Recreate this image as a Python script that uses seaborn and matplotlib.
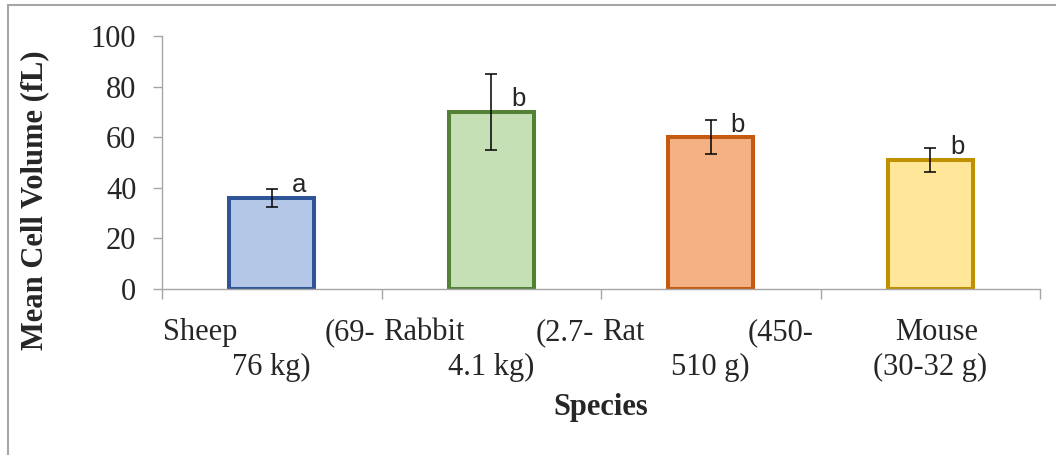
import numpy as np
import pandas as pd
import seaborn as sns
import matplotlib
matplotlib.use("Agg")
import matplotlib.pyplot as plt
from matplotlib.lines import Line2D
from matplotlib.transforms import blended_transform_factory

# ---- data ----
species = ["Sheep", "Rabbit", "Rat", "Mouse"]
mcv = [36.0, 70.0, 60.0, 51.0]
mcv_err = [3.5, 15.0, 6.7, 4.6]
sig_letters = ["a", "b", "b", "b"]
label_line1_left = ["Sheep", "Rabbit", "Rat", ""]
label_line1_right = ["(69-", "(2.7-", "(450-", ""]
label_line1_center = ["", "", "", "Mouse"]
label_line2 = ["76 kg)", "4.1 kg)", "510 g)", "(30-32 g)"]
y_ticks = [0, 20, 40, 60, 80, 100]

fills = ["#B4C7E7", "#C5E0B4", "#F4B183", "#FFE699"]
edges = ["#2F5597", "#538135", "#C55A11", "#BF9000"]
grey = "#A6A6A6"

sns.set_style("white")
plt.rcParams["font.family"] = ["Liberation Serif", "DejaVu Serif"]

df = pd.DataFrame({"Species": species, "MCV": mcv})

fig = plt.figure(figsize=(10.56, 4.55), dpi=100)
ax = fig.add_axes([162/1056, 1-289/455, (1040-162)/1056, (289-36)/455])

sns.barplot(data=df, x="Species", y="MCV", hue="Species", palette=fills,
            width=0.385, legend=False, ax=ax, errorbar=None, saturation=1)
for patch, ec in zip(ax.patches, edges):
    patch.set_edgecolor(ec)
    patch.set_linewidth(2.9)
    patch.set_joinstyle("miter")

xpos = np.arange(len(species))
ax.errorbar(xpos, mcv, yerr=mcv_err, fmt="none", ecolor="black",
            elinewidth=1.1, capsize=4.5, capthick=1.1, zorder=5)

for x, v, e, s in zip(xpos, mcv, mcv_err, sig_letters):
    ax.annotate(s, (x, v), xytext=(19.5, 0.5), textcoords="offset points",
                ha="center", va="bottom", fontsize=18.5,
                family=["Liberation Sans", "DejaVu Sans"])

ax.set_ylim(0, 100)
ax.set_xlim(-0.5, len(species) - 0.5)
ax.set_yticks(y_ticks)
ax.set_yticklabels([str(t) for t in y_ticks], fontsize=22)
ax.tick_params(axis="y", direction="out", length=6.5, width=1.0, color=grey,
               pad=12, left=True)
ax.set_xticks(xpos)
ax.set_xticklabels([""] * len(species))
ax.tick_params(axis="x", which="major", length=0)
ax.set_xticks(np.arange(-0.5, len(species), 1.0), minor=True)
ax.tick_params(axis="x", which="minor", direction="out", length=7, width=1.0,
               color=grey, bottom=True)

for side in ["top", "right"]:
    ax.spines[side].set_visible(False)
for side in ["left", "bottom"]:
    ax.spines[side].set_color(grey)
    ax.spines[side].set_linewidth(1.0)

# category labels (Excel-style wrapped)
trans = blended_transform_factory(ax.transData, ax.transAxes)
y1 = (289 - 340) / 253
y2 = (289 - 375) / 253
for x, l, r, c, l2 in zip(xpos, label_line1_left, label_line1_right,
                           label_line1_center, label_line2):
    if l:
        ax.text(x - 0.5 + 0.005, y1, l, transform=trans, ha="left", va="baseline", fontsize=22)
    if r:
        ax.text(x + 0.5 - 0.03, y1, r, transform=trans, ha="right", va="baseline", fontsize=22)
    if c:
        ax.text(x + 0.03, y1, c, transform=trans, ha="center", va="baseline", fontsize=22)
    ax.text(x, y2, l2, transform=trans, ha="center", va="baseline", fontsize=22)

ax.set_xlabel("Species", fontsize=22, fontweight="bold")
ax.xaxis.label.set_va("center")
ax.xaxis.set_label_coords(0.5, (289 - 408) / 253)
ax.set_ylabel("Mean Cell Volume (fL)", fontsize=22, fontweight="bold")
ax.yaxis.label.set_va("center")
ax.yaxis.set_label_coords((35 - 162) / 878, (289 - 200) / 253)

# figure border (top and left)
fig.add_artist(Line2D([8/1056, 8/1056], [0, 1 - 5/455], color=grey, lw=1.5,
                      transform=fig.transFigure))
fig.add_artist(Line2D([8/1056, 1], [1 - 5/455, 1 - 5/455], color=grey, lw=1.5,
                      transform=fig.transFigure))

fig.savefig("out.png", dpi=100)
